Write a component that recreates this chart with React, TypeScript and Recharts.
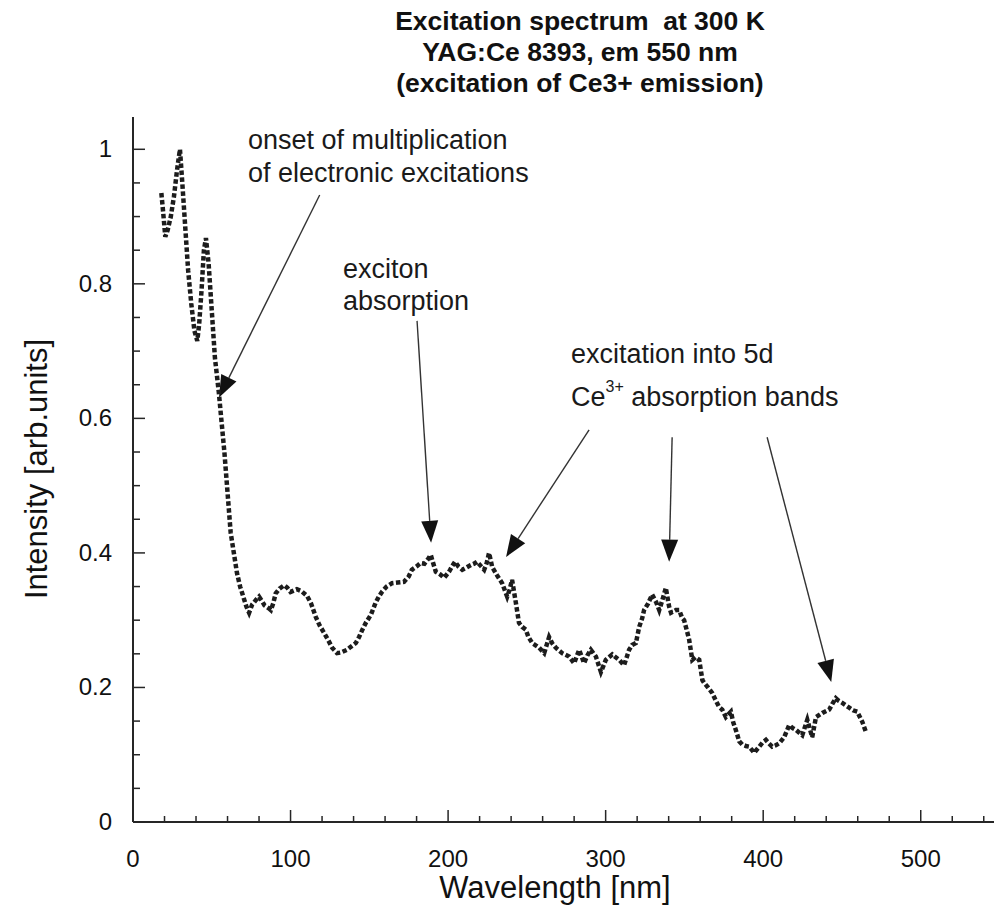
import { ComposedChart, Line, XAxis, YAxis, ReferenceLine } from 'recharts';

// wavelength [nm] and intensity [arb. units]
const wavelengths = [
  18, 19, 20.5, 22, 24, 26, 28, 29.8, 31, 33, 35, 37, 39, 40.8, 42, 43.5, 45, 46.3, 48, 50,
  52, 54.5, 56, 58, 60, 62, 64, 66, 68, 70, 72, 73.7, 75.6, 78, 80, 82, 83.5, 86, 87.5, 89,
  90.6, 93, 96, 98, 100, 102, 104, 107, 110.5, 113, 116, 118.5, 121.3, 124, 126.4, 129.5, 132, 135.9, 138, 141.4,
  143.5, 145.6, 148, 151, 154, 156, 158, 161, 164.4, 168, 172, 175, 177, 180, 182.6, 185, 187, 189, 190.5, 192.2,
  195, 197.5, 200.6, 202.5, 204.4, 206.5, 209, 211.5, 214.4, 216.5, 218.4, 221, 222.9, 224.5, 226, 228, 231, 234.3, 237.5, 239,
  240.6, 243, 245, 247, 249.3, 251, 253.4, 256, 257.8, 261, 264.1, 266, 268.4, 272.4, 276.8, 280, 283.2, 286.3, 288.5, 290.6,
  293.8, 297, 300.1, 304.2, 308.6, 311.7, 314.9, 316.8, 319.2, 321.3, 323.2, 324.4, 327, 329.5, 332, 334, 336, 338.2, 340.3, 341.5,
  344.6, 346.7, 348.6, 349.8, 351.5, 353, 355, 357, 359.4, 361.4, 362.5, 365, 367.6, 370, 372, 374, 376.3, 379.5, 381, 382.6,
  384.8, 386.7, 389, 391.1, 394.3, 397.5, 399.5, 401.7, 403.5, 405.7, 408, 410.2, 413.3, 416.5, 418.5, 420.7, 424.8, 428, 431.1, 433.5,
  437.5, 441.9, 444, 446.1, 448, 450.2, 454.6, 457, 459.7, 462.9, 465.2,
];

const intensities = [
  0.935, 0.91, 0.87, 0.88, 0.9, 0.93, 0.97, 1.0, 0.96, 0.89, 0.82, 0.77, 0.73, 0.715, 0.74, 0.79, 0.85, 0.868, 0.83, 0.76,
  0.69, 0.638, 0.6, 0.55, 0.49, 0.43, 0.4, 0.37, 0.35, 0.335, 0.32, 0.311, 0.323, 0.33, 0.335, 0.328, 0.322, 0.318, 0.315, 0.325,
  0.34, 0.347, 0.352, 0.348, 0.342, 0.344, 0.346, 0.343, 0.336, 0.325, 0.305, 0.292, 0.281, 0.27, 0.259, 0.251, 0.252, 0.256, 0.26, 0.266,
  0.275, 0.286, 0.297, 0.308, 0.326, 0.335, 0.342, 0.35, 0.355, 0.356, 0.357, 0.365, 0.375, 0.38, 0.385, 0.384, 0.39, 0.397, 0.385, 0.372,
  0.368, 0.363, 0.372, 0.38, 0.387, 0.38, 0.375, 0.378, 0.382, 0.384, 0.387, 0.38, 0.375, 0.385, 0.4, 0.379, 0.367, 0.355, 0.335, 0.345,
  0.36, 0.326, 0.296, 0.29, 0.286, 0.275, 0.266, 0.262, 0.259, 0.251, 0.275, 0.266, 0.259, 0.251, 0.246, 0.236, 0.256, 0.236, 0.248, 0.256,
  0.246, 0.223, 0.241, 0.249, 0.241, 0.233, 0.256, 0.263, 0.266, 0.29, 0.303, 0.315, 0.325, 0.338, 0.327, 0.315, 0.33, 0.348, 0.32, 0.311,
  0.315, 0.315, 0.303, 0.3, 0.285, 0.271, 0.241, 0.245, 0.241, 0.211, 0.207, 0.2, 0.192, 0.18, 0.171, 0.167, 0.156, 0.164, 0.148, 0.137,
  0.12, 0.115, 0.113, 0.112, 0.103, 0.112, 0.118, 0.122, 0.117, 0.112, 0.114, 0.117, 0.126, 0.144, 0.14, 0.137, 0.129, 0.152, 0.126, 0.156,
  0.162, 0.167, 0.176, 0.184, 0.18, 0.177, 0.17, 0.166, 0.164, 0.149, 0.134,
];

const xTicks = [0, 20, 40, 60, 80, 100, 120, 140, 160, 180, 200, 220, 240, 260, 280, 300, 320, 340, 360, 380, 400, 420, 440, 460, 480, 500, 520, 540];
const xLabelled = [0, 100, 200, 300, 400, 500];
const yTicks = [0, 0.05, 0.1, 0.15, 0.2, 0.25, 0.3, 0.35, 0.4, 0.45, 0.5, 0.55, 0.6, 0.65, 0.7, 0.75, 0.8, 0.85, 0.9, 0.95, 1];
const yLabelled = [0, 0.2, 0.4, 0.6, 0.8, 1];

// arrows: [fromX, fromY, toX, toY] in data units
const arrows = [
  [118.5, 0.932, 54.6, 0.631],
  [180.3, 0.745, 189.2, 0.415],
  [289.5, 0.583, 236.8, 0.394],
  [342.2, 0.572, 340.3, 0.387],
  [402.5, 0.572, 443.2, 0.208],
];

const data = wavelengths.map((wl, i) => ({ wl, intensity: intensities[i] }));

const ink = '#262626';
const narrow = '"Liberation Sans Narrow", "Liberation Sans", Arial, sans-serif';
const sans = '"Liberation Sans", Arial, sans-serif';

const XTick = (props: any) => {
  const { x, y, payload } = props;
  const v = payload.value;
  const major = xLabelled.includes(v);
  return (
    <g>
      <line x1={x} x2={x} y1={y} y2={y - (major ? 12 : 6)} stroke={ink} strokeWidth={1.5} />
      {major && (
        <text x={x} y={y + 45} textAnchor="middle" fontSize={24} fontFamily={narrow} fill="#111">
          {v}
        </text>
      )}
    </g>
  );
};

const YTick = (props: any) => {
  const { x, y, payload } = props;
  const v = Math.round(payload.value * 100) / 100;
  const major = yLabelled.some((t) => Math.abs(t - v) < 1e-6);
  return (
    <g>
      <line x1={x} x2={x + (major ? 12 : 7)} y1={y} y2={y} stroke={ink} strokeWidth={1.5} />
      {major && (
        <text x={x - 21} y={y + 8} textAnchor="end" fontSize={24} fontFamily={sans} fill="#111">
          {String(v)}
        </text>
      )}
    </g>
  );
};

const Arrow = (props: any) => {
  const { x1, y1, x2, y2 } = props;
  const dx = x2 - x1;
  const dy = y2 - y1;
  const len = Math.sqrt(dx * dx + dy * dy);
  const ux = dx / len;
  const uy = dy / len;
  const headL = 22;
  const headW = 8.5;
  const bx = x2 - ux * headL;
  const by = y2 - uy * headL;
  const pts = `${x2},${y2} ${bx - uy * headW},${by + ux * headW} ${bx + uy * headW},${by - ux * headW}`;
  return (
    <g>
      <line x1={x1} y1={y1} x2={bx} y2={by} stroke="#333" strokeWidth={1.4} />
      <polygon points={pts} fill="#111" />
    </g>
  );
};

const note = (left: number, top: number, lineHeight: number): React.CSSProperties => ({
  position: 'absolute',
  left,
  top,
  fontFamily: sans,
  fontSize: 27,
  lineHeight: `${lineHeight}px`,
  color: '#1a1a1a',
  whiteSpace: 'nowrap',
});

export default function App() {
  return (
    <div style={{ position: 'absolute', left: 0, top: 0, width: 994, height: 920, background: '#fff' }}>
      <ComposedChart
        width={994}
        height={920}
        data={data}
        margin={{ top: 117, right: 0, bottom: 0, left: 0 }}
      >
        <XAxis
          dataKey="wl"
          type="number"
          domain={[0, 546.5]}
          ticks={xTicks}
          interval={0}
          height={98}
          tickSize={0}
          tickMargin={0}
          tickLine={false}
          tick={<XTick />}
          axisLine={{ stroke: ink, strokeWidth: 2 }}
          allowDataOverflow
          label={(p: any) => (
            <text x={555} y={898} textAnchor="middle" fontSize={31} fontFamily={narrow} fill="#111">
              Wavelength [nm]
            </text>
          )}
        />
        <XAxis
          xAxisId="top"
          dataKey="wl"
          type="number"
          orientation="top"
          domain={[0, 546.5]}
          height={0}
          tick={false}
          tickLine={false}
          axisLine={{ stroke: ink, strokeWidth: 2 }}
          allowDataOverflow
        />
        <YAxis
          type="number"
          domain={[0, 1.048]}
          ticks={yTicks}
          interval={0}
          width={133}
          tickSize={0}
          tickMargin={0}
          tickLine={false}
          tick={<YTick />}
          axisLine={{ stroke: ink, strokeWidth: 2 }}
          allowDataOverflow
          label={(p: any) => (
            <text
              x={36}
              y={469}
              transform="rotate(-90 36 469)"
              textAnchor="middle"
              dominantBaseline="central"
              fontSize={31}
              fontFamily={narrow}
              fill="#111"
            >
              Intensity [arb.units]
            </text>
          )}
        />
        {arrows.map((a, i) => (
          <ReferenceLine
            key={i}
            segment={[
              { x: a[0], y: a[1] },
              { x: a[2], y: a[3] },
            ]}
            ifOverflow="visible"
            shape={<Arrow />}
          />
        ))}
        <Line
          dataKey="intensity"
          type="linear"
          stroke="#1c1c1c"
          strokeWidth={4.5}
          strokeDasharray="4.5 2.5"
          dot={false}
          activeDot={false}
          isAnimationActive={false}
        />
      </ComposedChart>

      <div
        style={{
          position: 'absolute',
          left: 0,
          top: 6,
          width: 1160,
          textAlign: 'center',
          fontFamily: narrow,
          fontWeight: 'bold',
          fontSize: 26.5,
          lineHeight: '31px',
          color: '#111',
        }}
      >
        <div>Excitation spectrum&nbsp; at 300 K</div>
        <div>YAG:Ce 8393, em 550 nm</div>
        <div>(excitation of Ce3+ emission)</div>
      </div>

      <div style={note(248, 124, 33)}>
        onset of multiplication
        <br />
        of electronic excitations
      </div>
      <div style={note(343, 253, 32)}>
        exciton
        <br />
        absorption
      </div>
      <div style={note(571, 333, 43)}>
        excitation into 5d
        <br />
        Ce<sup style={{ fontSize: 16, verticalAlign: 'top', lineHeight: '22px' }}>3+</sup> absorption bands
      </div>
    </div>
  );
}
